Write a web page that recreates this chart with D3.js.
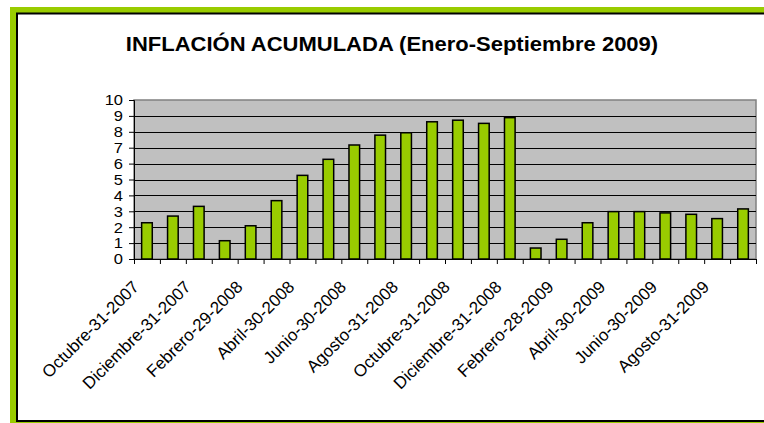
<!DOCTYPE html>
<html>
<head>
<meta charset="UTF-8">
<title>Inflación acumulada</title>
<script src="https://cdn.jsdelivr.net/npm/d3@7"></script>
<style>
  body{margin:0;background:#fff;}
  text{font-family:"Liberation Sans",Arial,sans-serif;fill:#000;}
</style>
</head>
<body>
<script>
// meses (uno por barra) y valores de inflación acumulada (%)
var meses = ["Octubre-31-2007","Noviembre-30-2007","Diciembre-31-2007","Enero-31-2008",
  "Febrero-29-2008","Marzo-31-2008","Abril-30-2008","Mayo-31-2008","Junio-30-2008",
  "Julio-31-2008","Agosto-31-2008","Septiembre-30-2008","Octubre-31-2008","Noviembre-30-2008",
  "Diciembre-31-2008","Enero-31-2009","Febrero-28-2009","Marzo-31-2009","Abril-30-2009",
  "Mayo-31-2009","Junio-30-2009","Julio-31-2009","Agosto-31-2009","Septiembre-30-2009"];
var inflacion = [2.28,2.70,3.31,1.15,2.09,3.67,5.26,6.27,7.17,7.79,7.94,8.63,
  8.73,8.53,8.89,0.69,1.24,2.28,2.98,2.98,2.90,2.81,2.54,3.15];
var yTicks = [0,1,2,3,4,5,6,7,8,9,10];
var titulo = "INFLACIÓN ACUMULADA (Enero-Septiembre 2009)";

var w = 764, h = 423;
var pLeft = 134, pRight = 756, pTop = 100, pBottom = 259;
var sx = 1.1; // la imagen original está algo estirada a lo ancho

var svg = d3.select("body").append("svg")
  .attr("width", w).attr("height", h);

// marco verde + borde negro
svg.append("rect").attr("x",10).attr("y",7).attr("width",900).attr("height",500)
  .attr("fill","#99cc00");
svg.append("rect").attr("x",17).attr("y",13.5).attr("width",900).attr("height",407.5)
  .attr("fill","#fff").attr("stroke","#000").attr("stroke-width",2);

// título
svg.append("text")
  .attr("transform","translate(392,51) scale(" + sx + ",1)")
  .attr("text-anchor","middle")
  .attr("font-size","20px").attr("font-weight","bold")
  .text(titulo);

// escalas
var x = d3.scaleBand().domain(meses).range([pLeft,pRight])
  .paddingInner(0.59).paddingOuter(0.295);
var xBordes = d3.scaleLinear().domain([0, meses.length]).range([pLeft,pRight]);
var y = d3.scaleLinear().domain([0,10]).range([pBottom,pTop]);

// área del gráfico
svg.append("rect").attr("x",pLeft).attr("y",pTop)
  .attr("width",pRight-pLeft).attr("height",pBottom-pTop)
  .attr("fill","#c0c0c0").attr("stroke","#808080").attr("stroke-width",1.5);

// líneas de división
svg.append("g").selectAll("line")
  .data(yTicks.filter(function(d){ return d > 0 && d < 10; }))
  .enter().append("line")
  .attr("x1",pLeft).attr("x2",pRight)
  .attr("y1",function(d){ return Math.round(y(d)) + 0.5; })
  .attr("y2",function(d){ return Math.round(y(d)) + 0.5; })
  .attr("stroke","#000").attr("stroke-width",1);

// barras
svg.append("g").selectAll("rect")
  .data(inflacion)
  .enter().append("rect")
  .attr("x",function(d,i){ return x(meses[i]); })
  .attr("y",function(d){ return y(d); })
  .attr("width",x.bandwidth())
  .attr("height",function(d){ return y(0) - y(d); })
  .attr("fill","#99cc00")
  .attr("stroke","#000").attr("stroke-width",1.5);

// eje y
var yAxis = d3.axisLeft(y).tickValues(yTicks).tickSize(5).tickPadding(5);
var gy = svg.append("g").attr("transform","translate(" + pLeft + ",0)").call(yAxis);
gy.select(".domain").attr("stroke","#000");
gy.selectAll("text").attr("font-size","15px")
  .attr("font-family","'Liberation Sans',Arial,sans-serif")
  .attr("transform","scale(" + sx + ",1)");

// eje x: marcas en los bordes de cada categoría
var xAxis = d3.axisBottom(xBordes).tickValues(d3.range(meses.length + 1))
  .tickSize(5).tickFormat("");
var gx = svg.append("g").attr("transform","translate(0," + pBottom + ")").call(xAxis);
gx.select(".domain").attr("stroke","#000");

// etiquetas de x, una de cada dos, giradas
svg.append("g").selectAll("text")
  .data(meses.filter(function(d,i){ return i % 2 === 0; }))
  .enter().append("text")
  .attr("transform",function(d){
    var cx = x(d) + x.bandwidth()/2 - 7;
    return "translate(" + cx + ",288) rotate(-45)";
  })
  .attr("text-anchor","end")
  .attr("font-size","17px")
  .text(function(d){ return d; });
</script>
</body>
</html>
